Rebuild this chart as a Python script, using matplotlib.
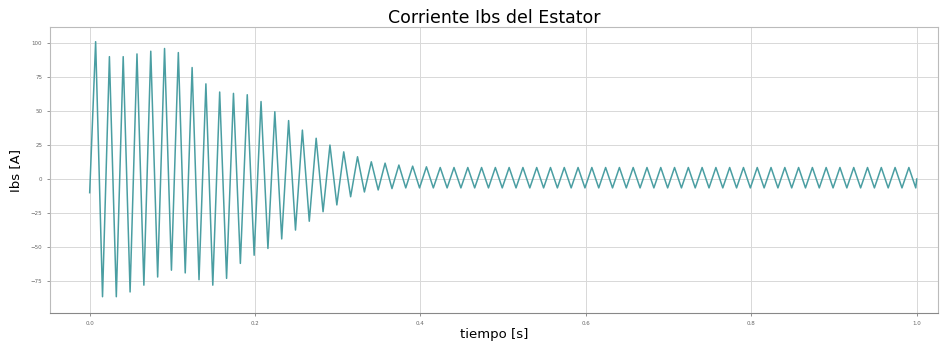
import numpy as np
import matplotlib
matplotlib.use("Agg")
import matplotlib.pyplot as plt

# Extrema of the stator current Ibs (A)
start_value = -10.0
end_value = 0.0
peaks = [101, 90, 90, 92, 94, 96, 93, 82, 70, 64, 63, 62, 57, 49.5, 43, 36,
         30, 25, 20, 16.4, 12.7, 11.7, 10.3, 9.5, 9, 8.5, 8.5, 8.5, 8.5, 8.5,
         8.5, 8.5, 8.5, 8.5, 8.5, 8.5, 8.5, 8.5, 8.5, 8.5, 8.5, 8.5, 8.5, 8.5,
         8.5, 8.5, 8.5, 8.5, 8.5, 8.5, 8.5, 8.5, 8.5, 8.5, 8.5, 8.5, 8.5, 8.5,
         8.5, 8.5]
troughs = [-86.5, -86.5, -83, -78, -72, -67, -69, -74, -78, -73, -62, -56,
           -51, -44, -37.5, -31, -24, -19, -13, -9.5, -8, -7, -6.5, -6.5,
           -6.5, -6.5, -6.5, -6.5, -6.5, -6.5, -6.5, -6.5, -6.5, -6.5, -6.5,
           -6.5, -6.5, -6.5, -6.5, -6.5, -6.5, -6.5, -6.5, -6.5, -6.5, -6.5,
           -6.5, -6.5, -6.5, -6.5, -6.5, -6.5, -6.5, -6.5, -6.5, -6.5, -6.5,
           -6.5, -6.5, -6.5]
first_peak_time = 0.0072
period = 1 / 60
t_end = 1.0

xticks = [0.0, 0.2, 0.4, 0.6, 0.8, 1.0]
yticks = [-75, -50, -25, 0, 25, 50, 75, 100]

# Build alternating extrema sequence
vals = [start_value]
times = [0.0]
for k, (p, tr) in enumerate(zip(peaks, troughs)):
    tp = first_peak_time + k * period
    times.append(tp); vals.append(p)
    tt = tp + period / 2
    if tt < t_end:
        times.append(tt); vals.append(tr)
times.append(t_end); vals.append(end_value)

fig = plt.figure(figsize=(9.52, 3.44), dpi=100)
ax = fig.add_axes([0.0525, 0.09, 0.933, 0.8315])
ax.plot(times, vals, color='#4a9ea2', lw=1.1)

ax.set_xlim(-0.048, 1.026)
ax.set_ylim(-98.5, 111.8)
ax.set_xticks(xticks)
ax.set_xticklabels([f"{v:.1f}" for v in xticks])
ax.set_yticks(yticks)
ax.tick_params(labelsize=4, colors='#666666', length=2, width=0.5)
ax.grid(True, color='#d8d8d8', lw=0.7)
for s in ax.spines.values():
    s.set_color('#bbbbbb')
    s.set_linewidth(0.8)
ax.spines['bottom'].set_color('#888888')
ax.set_title("Corriente Ibs del Estator", fontsize=12.5, pad=2)
ax.set_xlabel("tiempo [s]", fontsize=9.5, labelpad=2)
ax.set_ylabel("Ibs [A]", fontsize=9.5, labelpad=6)

fig.savefig("out.png", dpi=100)
